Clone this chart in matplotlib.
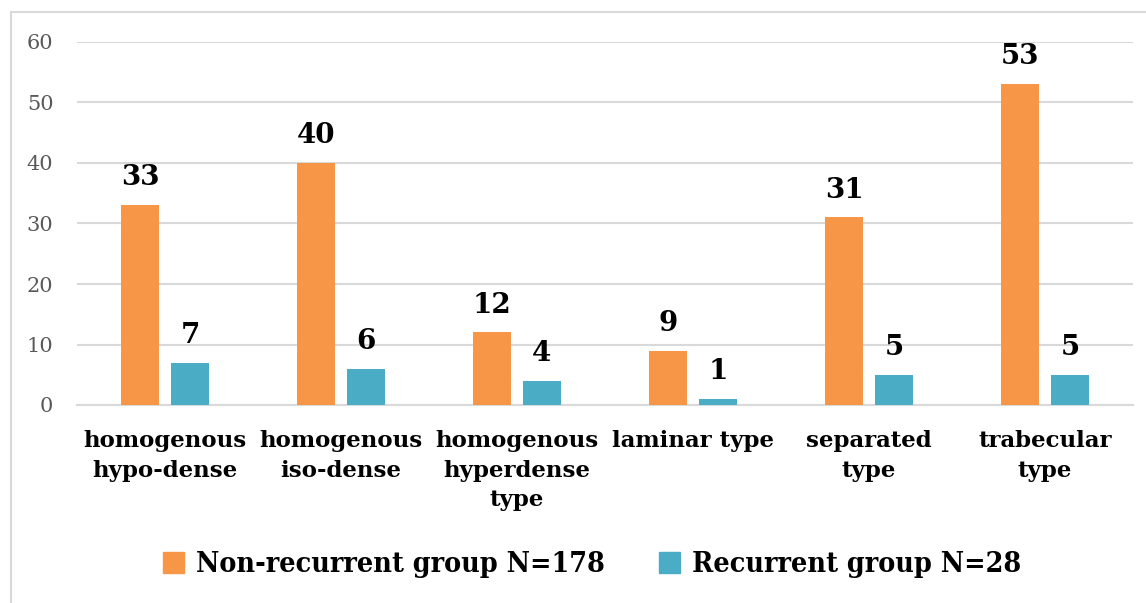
"""Bar chart: CT density patterns in non-recurrent vs recurrent groups."""

import matplotlib
matplotlib.use("Agg")
import matplotlib.pyplot as plt
import matplotlib.patches as mpatches
import matplotlib.transforms as mtransforms
import numpy as np

categories = [
    "homogenous\nhypo-dense",
    "homogenous\niso-dense",
    "homogenous\nhyperdense\ntype",
    "laminar type",
    "separated\ntype",
    "trabecular\ntype",
]
non_recurrent = [33, 40, 12, 9, 31, 53]
recurrent = [7, 6, 4, 1, 5, 5]
series_labels = ["Non-recurrent group N=178", "Recurrent group N=28"]
y_ticks = [0, 10, 20, 30, 40, 50, 60]

ORANGE = "#F79646"
BLUE = "#4BACC6"
GRID = "#D9D9D9"
SERIF = "DejaVu Serif"

W, H = 1146, 603
fig = plt.figure(figsize=(W / 100, H / 100), dpi=100)

# outer chart frame (right/bottom edges run off the picture)
fig.patches.append(mpatches.Rectangle(
    (11 / W, -0.01), 1.2, 1 - 12 / H + 0.01, transform=fig.transFigure,
    fill=False, edgecolor=GRID, linewidth=1.5))

ax = fig.add_axes([77 / W, (H - 405) / H, (1133 - 77) / W, (405 - 42) / H])

x = np.arange(len(categories))
width = 0.22
offset = 0.142
b1 = ax.bar(x - offset, non_recurrent, width, color=ORANGE, label=series_labels[0], zorder=3)
b2 = ax.bar(x + offset, recurrent, width, color=BLUE, label=series_labels[1], zorder=3)

for bars in (b1, b2):
    for rect in bars:
        ax.annotate(f"{int(rect.get_height())}",
                    (rect.get_x() + rect.get_width() / 2, rect.get_height()),
                    xytext=(0, 10), textcoords="offset points",
                    ha="center", va="bottom", fontsize=20, fontweight="bold",
                    family=SERIF, color="black")

ax.set_xlim(-0.5, len(categories) - 0.5)
ax.set_ylim(0, 60)
ax.set_yticks(y_ticks)
ax.yaxis.grid(True, color=GRID, linewidth=1.5, zorder=0)
ax.set_axisbelow(True)
ax.tick_params(axis="y", length=0, pad=17, labelsize=15, labelcolor="#595959")
for lbl in ax.get_yticklabels():
    lbl.set_family(SERIF)
ax.set_xticks([])
for side in ("top", "right", "left"):
    ax.spines[side].set_visible(False)
ax.spines["bottom"].set_color(GRID)
ax.spines["bottom"].set_linewidth(1.5)

trans = mtransforms.blended_transform_factory(ax.transData, fig.transFigure)
for xi, cat in zip(x, categories):
    ax.text(xi, 1 - 430 / H, cat, transform=trans, ha="center", va="top",
            fontsize=16.5, fontweight="bold", family=SERIF, linespacing=1.45)

handles = [mpatches.Patch(color=ORANGE), mpatches.Patch(color=BLUE)]
fig.legend(handles, series_labels, loc="center", bbox_to_anchor=(592 / W, 1 - 565 / H),
           ncol=2, frameon=False, handlelength=0.75, handleheight=0.75,
           handletextpad=0.4, columnspacing=1.9,
           prop={"family": SERIF, "weight": "bold", "size": 20.5, "stretch": "condensed"})

fig.savefig("out.png", dpi=100)
plt.close(fig)
